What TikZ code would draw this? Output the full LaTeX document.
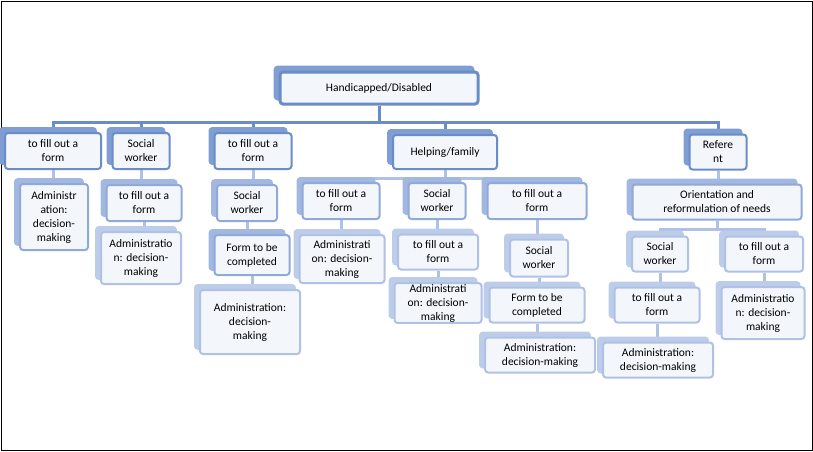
\documentclass[tikz,border=0pt]{standalone}
\usepackage{fontspec}
\setmainfont{Carlito}
\usetikzlibrary{positioning,shadows,backgrounds}
\definecolor{edgeA}{HTML}{6A8CC7}
\definecolor{backA}{HTML}{809ED3}
\definecolor{edgeB}{HTML}{8FA9D8}
\definecolor{backB}{HTML}{A3B8E0}
\definecolor{edgeC}{HTML}{AFC2E5}
\definecolor{backC}{HTML}{BDCCE9}
\definecolor{paper}{HTML}{F3F6FB}
\tikzset{
  box/.style={rectangle,rounded corners=3pt,fill=paper,line width=2pt,align=center,
    inner sep=1pt,font=\fontsize{11.5}{14}\selectfont},
  sz/.style 2 args={minimum width=#1pt,minimum height=#2pt},
  lvA/.style={box,draw=edgeA,copy shadow={shadow xshift=-5pt,shadow yshift=5pt,fill=backA,draw=backA}},
  lvB/.style={box,draw=edgeB,copy shadow={shadow xshift=-5pt,shadow yshift=5pt,fill=backB,draw=backB}},
  lvC/.style={box,draw=edgeC,copy shadow={shadow xshift=-5pt,shadow yshift=5pt,fill=backC,draw=backC}},
  linkA/.style={draw=edgeA,line width=3pt},
  linkB/.style={draw=edgeC,line width=3pt},
}
\begin{document}
\begin{tikzpicture}[x=1pt,y=-1pt]
  \draw[black,line width=0.6pt] (1,1) rectangle (812,450);
  \useasboundingbox (0,0) rectangle (813,451);

  % top
  \node[lvA,line width=3pt,sz={198}{32}] (root) at (379,88) {Handicapped/Disabled};
  \coordinate (barA) at (0,122);

  % first row
  \node[lvA,sz={96}{36}] (form1) at (53,151) {to fill out a\\form};
  \node[lvA,sz={57}{36}] (social1) at (141,151) {Social\\worker};
  \node[lvA,sz={77}{36}] (form2) at (253,151) {to fill out a\\form};
  \node[lvA,sz={104}{34}] (family) at (445,152) {Helping/family};
  \node[lvA,sz={57}{35}] (referent) at (718,152) {Refere\\nt};
  \coordinate (barF) at (0,178);

  % second row
  \node[lvB,sz={68}{66}] (admin1) at (54,217) {Administr\\ation:\\decision-\\making};
  \node[lvB,sz={75}{36}] (form3) at (144,203) {to fill out a\\form};
  \node[lvB,sz={60}{36}] (social2) at (247,203) {Social\\worker};
  \node[lvB,sz={77}{36}] (form4) at (341,201) {to fill out a\\form};
  \node[lvB,sz={57}{36}] (social3) at (437,201) {Social\\worker};
  \node[lvB,sz={99}{36}] (form5) at (537,201) {to fill out a\\form};
  \node[lvB,sz={169}{35}] (orient) at (717,202) {Orientation and\\reformulation of needs};
  \coordinate (barO) at (0,229);

  % third row
  \node[lvC,sz={80}{52}] (admin2) at (141,258) {Administratio\\n: decision-\\making};
  \node[lvB,sz={75}{40}] (completed1) at (252,255) {Form to be\\completed};
  \node[lvC,sz={85}{48}] (admin3) at (342,259) {Administrati\\on: decision-\\making};
  \node[lvC,sz={80}{35}] (form6) at (438,252) {to fill out a\\form};
  \node[lvC,sz={58}{37}] (social4) at (539,258) {Social\\worker};
  \node[lvC,sz={56}{35}] (social5) at (660,254) {Social\\worker};
  \node[lvC,sz={78}{35}] (form7) at (764,254) {to fill out a\\form};

  % fourth row
  \node[lvC,sz={100}{64}] (admin4) at (250,322) {Administration:\\decision-\\making};
  \node[lvC,sz={87}{37}] (admin5) at (438,303) {Administrati\\on: decision-\\making};
  \node[lvC,sz={95}{35}] (completed2) at (537,305) {Form to be\\completed};
  \node[lvC,sz={85}{35}] (form8) at (657,305) {to fill out a\\form};
  \node[lvC,sz={83}{52}] (admin6) at (763,313) {Administratio\\n: decision-\\making};
  \node[lvC,sz={110}{35}] (admin7) at (540,355) {Administration:\\decision-making};
  \node[lvC,sz={110}{35}] (admin8) at (658,360) {Administration:\\decision-making};

  \begin{pgfonlayer}{background}
    % main bar
    \draw[linkA] (root.south) -- (root.south |- barA);
    \draw[linkA] (form1.north) -- (form1.north |- barA) -| (referent.north);
    \foreach \n in {social1,form2,family}
      \draw[linkA] (\n.north) -- (\n.north |- barA);
    % family branch
    \draw[linkB] (family.south) -- (family.south |- barF);
    \draw[linkB] (form4.north) -- (form4.north |- barF) -| (form5.north);
    \draw[linkB] (social3.north) -- (social3.north |- barF);
    % referent branch
    \draw[linkB] (orient.south) -- (orient.south |- barO);
    \draw[linkB] (social5.north) -- (social5.north |- barO) -| (form7.north);
    % single links
    \foreach \p/\c in {form1/admin1,social1/form3,form2/social2,referent/orient,
        form3/admin2,social2/completed1,completed1/admin4,form4/admin3,
        social3/form6,form6/admin5,form5/social4,social4/completed2,
        completed2/admin7,social5/form8,form8/admin8,form7/admin6}
      \draw[linkB] (\p.south) -- (\p.south |- \c.north);
  \end{pgfonlayer}
\end{tikzpicture}
\end{document}
